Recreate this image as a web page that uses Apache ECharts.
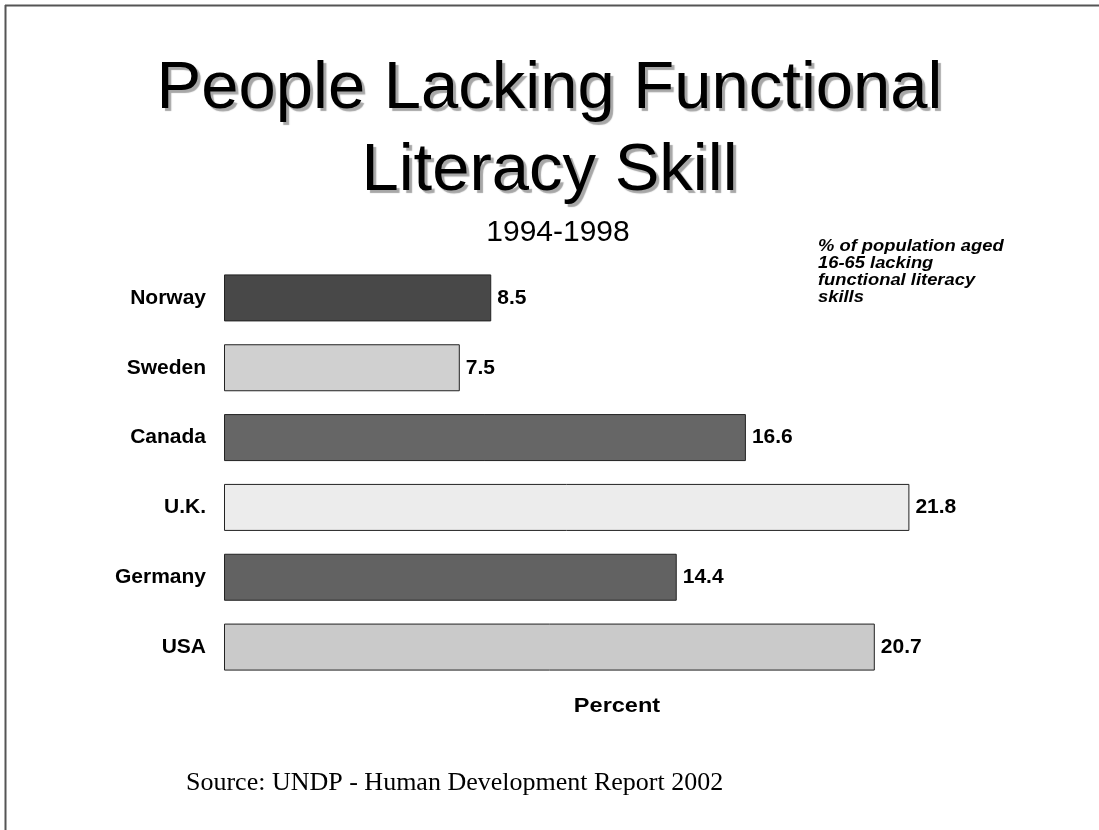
<!DOCTYPE html>
<html>
<head>
<meta charset="utf-8">
<script src="https://cdn.jsdelivr.net/npm/echarts@6/dist/echarts.min.js"></script>
<style>
  html, body { margin: 0; padding: 0; background: #ffffff; }
  #chart { width: 1099px; height: 830px; }
</style>
</head>
<body>
<div id="chart"></div>
<script>
// Share of population aged 16-65 lacking functional literacy skills, 1994-1998
const countries = ['Norway', 'Sweden', 'Canada', 'U.K.', 'Germany', 'USA'];
const percentValues = [8.5, 7.5, 16.6, 21.8, 14.4, 20.7];
const barColors = ['#484848', '#d0d0d0', '#666666', '#ececec', '#626262', '#cacaca'];

const titleLines = ['People Lacking Functional', 'Literacy Skill'];
const subtitleText = '1994-1998';
const noteLines = ['% of population aged', '16-65 lacking', 'functional literacy', 'skills'];
const axisTitle = 'Percent';
const sourceText = 'Source: UNDP - Human Development Report 2002';

const SANS = 'Liberation Sans, Arial, sans-serif';
const SERIF = 'Liberation Serif, Times New Roman, serif';

const chart = echarts.init(document.getElementById('chart'), null, { renderer: 'canvas' });

const graphics = [
  // frame lines along the top and left edges
  { type: 'line', shape: { x1: 5, y1: 5.5, x2: 1099, y2: 5.5 }, style: { stroke: '#555', lineWidth: 2 } },
  { type: 'line', shape: { x1: 5.5, y1: 5, x2: 5.5, y2: 830 }, style: { stroke: '#555', lineWidth: 2 } }
];

// two-line heading with a soft drop shadow
titleLines.forEach((t, i) => {
  graphics.push({
    type: 'text', x: 549.5, y: 90 + i * 82,
    style: {
      text: t, fontSize: 67, fontFamily: SANS, fill: '#000',
      align: 'center', verticalAlign: 'middle',
      textShadowColor: 'rgba(130,130,130,0.7)',
      textShadowOffsetX: 3, textShadowOffsetY: 3, textShadowBlur: 1
    }
  });
});

graphics.push({
  type: 'text', x: 558, y: 233,
  style: {
    text: subtitleText, fontSize: 30, fontFamily: SANS,
    fill: '#000', align: 'center', verticalAlign: 'middle',
    textShadowColor: 'rgba(150,150,150,0.6)', textShadowOffsetX: 1.5, textShadowOffsetY: 1.5
  }
});

// side note describing the measure
noteLines.forEach((t, i) => {
  graphics.push({
    type: 'text', x: 818, y: 246 + i * 17, scaleX: 1.08,
    style: {
      text: t, fontSize: 17, fontWeight: 'bold', fontStyle: 'italic',
      fontFamily: SANS, fill: '#000', align: 'left', verticalAlign: 'middle'
    }
  });
});

// axis caption under the bars
graphics.push({
  type: 'text', x: 617, y: 706, scaleX: 1.12,
  style: {
    text: axisTitle, fontSize: 21, fontWeight: 'bold', fontFamily: SANS,
    fill: '#000', align: 'center', verticalAlign: 'middle'
  }
});

graphics.push({
  type: 'text', x: 186, y: 783, scaleX: 1.04,
  style: {
    text: sourceText, fontSize: 25, fontFamily: SERIF,
    fill: '#000', align: 'left', verticalAlign: 'middle'
  }
});

chart.setOption({
  backgroundColor: '#ffffff',
  animation: false,
  grid: { left: 224, top: 263, width: 786, height: 419, containLabel: false },
  xAxis: {
    type: 'value', min: 0, max: 25,
    axisLine: { show: false }, axisTick: { show: false },
    axisLabel: { show: false }, splitLine: { show: false }
  },
  yAxis: {
    type: 'category', data: countries, inverse: true,
    axisLine: { show: false }, axisTick: { show: false },
    axisLabel: {
      margin: 18, fontSize: 21, fontWeight: 'bold', color: '#000', fontFamily: SANS
    }
  },
  series: [{
    type: 'bar',
    data: percentValues.map((v, i) => ({ value: v, itemStyle: { color: barColors[i] } })),
    barWidth: 47,
    itemStyle: { borderColor: '#222', borderWidth: 1 },
    label: {
      show: true, position: 'right', distance: 6,
      formatter: p => p.value.toFixed(1),
      fontSize: 21, fontWeight: 'bold', color: '#000', fontFamily: SANS
    }
  }],
  graphic: graphics
});
</script>
</body>
</html>
